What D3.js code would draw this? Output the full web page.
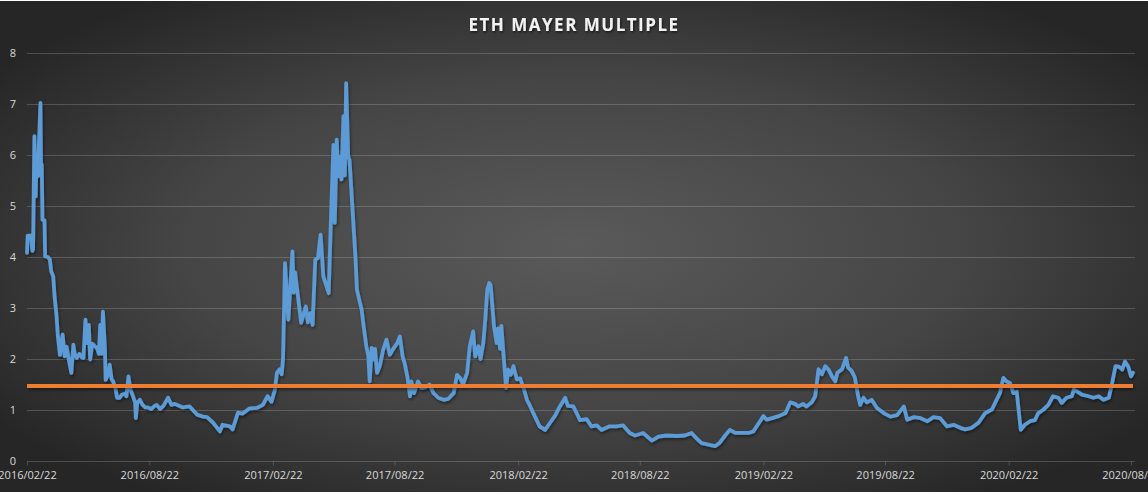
<!DOCTYPE html>
<html>
<head>
<meta charset="utf-8">
<script src="https://cdn.jsdelivr.net/npm/d3@7"></script>
<style>
    html, body { margin: 0; padding: 0; background: #ffffff; }
    svg { display: block; }
</style>
</head>
<body>
<div id="chart"></div>
<script>

// daily ETH mayer multiple (not every day)
var dates = [
    "2016-02-22", "2016-02-23", "2016-02-28", "2016-03-01", "2016-03-02", "2016-03-04", "2016-03-06", "2016-03-07",
    "2016-03-09", "2016-03-13", "2016-03-14", "2016-03-15", "2016-03-16", "2016-03-19", "2016-03-20", "2016-03-24",
    "2016-03-27", "2016-03-29", "2016-04-01", "2016-04-03", "2016-04-06", "2016-04-08", "2016-04-11", "2016-04-15",
    "2016-04-18", "2016-04-21", "2016-04-25", "2016-04-28", "2016-05-01", "2016-05-03", "2016-05-06", "2016-05-10",
    "2016-05-13", "2016-05-16", "2016-05-19", "2016-05-21", "2016-05-24", "2016-05-26", "2016-05-29", "2016-06-02",
    "2016-06-05", "2016-06-08", "2016-06-10", "2016-06-12", "2016-06-14", "2016-06-17", "2016-06-18", "2016-06-22",
    "2016-06-24", "2016-06-27", "2016-06-29", "2016-07-03", "2016-07-05", "2016-07-09", "2016-07-12", "2016-07-16",
    "2016-07-19", "2016-07-22", "2016-07-25", "2016-07-28", "2016-08-01", "2016-08-02", "2016-08-04", "2016-08-08",
    "2016-08-12", "2016-08-16", "2016-08-20", "2016-08-25", "2016-08-30", "2016-09-02", "2016-09-07", "2016-09-12",
    "2016-09-19", "2016-09-24", "2016-09-29", "2016-10-06", "2016-10-11", "2016-10-21", "2016-11-01", "2016-11-10",
    "2016-11-16", "2016-11-25", "2016-12-05", "2016-12-09", "2016-12-20", "2016-12-24", "2017-01-01", "2017-01-08",
    "2017-01-18", "2017-01-29", "2017-02-07", "2017-02-14", "2017-02-20", "2017-02-25", "2017-02-28", "2017-03-04",
    "2017-03-07", "2017-03-09", "2017-03-12", "2017-03-17", "2017-03-23", "2017-03-25", "2017-03-27", "2017-04-05",
    "2017-04-12", "2017-04-15", "2017-04-19", "2017-04-22", "2017-04-26", "2017-04-30", "2017-05-04", "2017-05-08",
    "2017-05-13", "2017-05-16", "2017-05-19", "2017-05-23", "2017-05-25", "2017-05-28", "2017-05-30", "2017-06-01",
    "2017-06-04", "2017-06-07", "2017-06-09", "2017-06-11", "2017-06-14", "2017-06-16", "2017-06-19", "2017-06-22",
    "2017-06-25", "2017-06-27", "2017-07-01", "2017-07-04", "2017-07-07", "2017-07-11", "2017-07-14", "2017-07-16",
    "2017-07-19", "2017-07-21", "2017-07-24", "2017-07-27", "2017-07-31", "2017-08-05", "2017-08-10", "2017-08-15",
    "2017-08-20", "2017-08-26", "2017-08-30", "2017-09-03", "2017-09-06", "2017-09-10", "2017-09-14", "2017-09-16",
    "2017-09-20", "2017-09-26", "2017-10-01", "2017-10-08", "2017-10-13", "2017-10-19", "2017-10-26", "2017-11-03",
    "2017-11-10", "2017-11-18", "2017-11-23", "2017-11-28", "2017-12-02", "2017-12-08", "2017-12-12", "2017-12-17",
    "2017-12-20", "2017-12-25", "2017-12-28", "2018-01-01", "2018-01-04", "2018-01-07", "2018-01-10", "2018-01-12",
    "2018-01-15", "2018-01-17", "2018-01-21", "2018-01-23", "2018-01-26", "2018-01-28", "2018-01-31", "2018-02-04",
    "2018-02-07", "2018-02-11", "2018-02-15", "2018-02-20", "2018-02-25", "2018-03-02", "2018-03-07", "2018-03-12",
    "2018-03-19", "2018-03-26", "2018-04-03", "2018-04-10", "2018-04-18", "2018-04-25", "2018-05-03", "2018-05-07",
    "2018-05-15", "2018-05-20", "2018-05-25", "2018-06-04", "2018-06-11", "2018-06-19", "2018-06-26", "2018-07-08",
    "2018-07-18", "2018-07-28", "2018-08-07", "2018-08-15", "2018-08-27", "2018-09-09", "2018-09-19", "2018-10-01",
    "2018-10-16", "2018-10-28", "2018-11-07", "2018-11-14", "2018-11-22", "2018-12-02", "2018-12-12", "2018-12-19",
    "2018-12-27", "2019-01-03", "2019-01-11", "2019-01-21", "2019-01-31", "2019-02-07", "2019-02-15", "2019-02-22",
    "2019-02-27", "2019-03-07", "2019-03-17", "2019-03-27", "2019-04-03", "2019-04-10", "2019-04-15", "2019-04-22",
    "2019-04-27", "2019-05-05", "2019-05-10", "2019-05-15", "2019-05-20", "2019-05-25", "2019-05-30", "2019-06-04",
    "2019-06-09", "2019-06-12", "2019-06-19", "2019-06-25", "2019-06-28", "2019-07-03", "2019-07-08", "2019-07-13",
    "2019-07-16", "2019-07-21", "2019-07-26", "2019-08-02", "2019-08-10", "2019-08-20", "2019-08-30", "2019-09-09",
    "2019-09-19", "2019-09-24", "2019-10-04", "2019-10-14", "2019-10-24", "2019-11-02", "2019-11-12", "2019-11-22",
    "2019-12-02", "2019-12-12", "2019-12-19", "2019-12-29", "2020-01-08", "2020-01-18", "2020-01-28", "2020-02-04",
    "2020-02-09", "2020-02-14", "2020-02-19", "2020-02-24", "2020-02-29", "2020-03-05", "2020-03-07", "2020-03-11",
    "2020-03-17", "2020-03-25", "2020-04-01", "2020-04-06", "2020-04-13", "2020-04-21", "2020-04-28", "2020-05-06",
    "2020-05-11", "2020-05-18", "2020-05-26", "2020-05-29", "2020-06-02", "2020-06-10", "2020-06-20", "2020-06-27",
    "2020-07-05", "2020-07-12", "2020-07-20", "2020-07-25", "2020-07-30", "2020-08-04", "2020-08-09", "2020-08-13",
    "2020-08-18", "2020-08-22", "2020-08-25"
];

var mayerValues = [
    4.08, 4.42, 4.42, 4.12, 4.15, 6.37, 5.19, 6.00,
    5.58, 7.02, 5.60, 5.81, 4.73, 4.72, 4.01, 4.00,
    3.95, 3.72, 3.62, 3.23, 2.84, 2.44, 2.08, 2.48,
    2.05, 2.24, 1.93, 1.73, 2.28, 2.10, 2.02, 2.10,
    2.04, 2.02, 2.77, 2.31, 2.67, 1.99, 2.30, 2.25,
    2.22, 2.10, 2.67, 2.10, 2.93, 2.20, 1.59, 1.70,
    1.89, 1.60, 1.57, 1.40, 1.24, 1.24, 1.30, 1.32,
    1.27, 1.66, 1.40, 1.30, 1.14, 0.84, 1.14, 1.20,
    1.10, 1.05, 1.05, 1.02, 1.08, 1.10, 1.02, 1.08,
    1.24, 1.10, 1.12, 1.08, 1.05, 1.07, 0.91, 0.87,
    0.86, 0.75, 0.58, 0.71, 0.68, 0.62, 0.95, 0.93,
    1.03, 1.04, 1.10, 1.27, 1.16, 1.40, 1.73, 1.80,
    1.70, 2.00, 3.88, 2.77, 4.11, 3.30, 3.70, 2.71,
    3.03, 2.72, 2.90, 2.67, 3.95, 3.98, 4.44, 3.62,
    3.42, 3.29, 4.60, 6.20, 4.67, 6.30, 5.58, 5.97,
    5.52, 6.76, 5.60, 7.41, 5.97, 5.90, 5.25, 4.60,
    3.95, 3.36, 3.13, 2.97, 2.64, 2.25, 2.05, 1.56,
    2.22, 1.99, 2.20, 1.73, 1.86, 2.18, 2.38, 2.08,
    2.20, 2.31, 2.44, 2.05, 1.92, 1.66, 1.27, 1.56,
    1.33, 1.56, 1.43, 1.45, 1.50, 1.33, 1.24, 1.20,
    1.22, 1.33, 1.69, 1.62, 1.50, 1.73, 2.25, 2.54,
    2.05, 2.25, 2.00, 2.31, 2.77, 3.36, 3.49, 3.45,
    2.97, 2.64, 2.31, 2.60, 2.20, 2.65, 2.12, 1.43,
    1.79, 1.69, 1.86, 1.60, 1.62, 1.43, 1.20, 1.07,
    0.87, 0.68, 0.61, 0.74, 0.89, 1.07, 1.24, 1.08,
    1.07, 0.94, 0.80, 0.82, 0.68, 0.70, 0.61, 0.68,
    0.68, 0.70, 0.55, 0.50, 0.55, 0.40, 0.48, 0.50,
    0.49, 0.50, 0.55, 0.45, 0.35, 0.32, 0.29, 0.36,
    0.50, 0.61, 0.55, 0.55, 0.55, 0.58, 0.74, 0.88,
    0.81, 0.84, 0.88, 0.94, 1.15, 1.12, 1.07, 1.12,
    1.07, 1.15, 1.27, 1.80, 1.70, 1.86, 1.79, 1.66,
    1.56, 1.73, 1.80, 2.02, 1.83, 1.77, 1.64, 1.27,
    1.10, 1.24, 1.15, 1.20, 1.04, 0.94, 0.87, 0.90,
    1.07, 0.81, 0.86, 0.84, 0.78, 0.86, 0.84, 0.68,
    0.71, 0.65, 0.62, 0.65, 0.75, 0.94, 1.01, 1.20,
    1.33, 1.63, 1.56, 1.53, 1.33, 1.36, 1.10, 0.61,
    0.71, 0.78, 0.80, 0.94, 1.00, 1.10, 1.27, 1.24,
    1.14, 1.24, 1.27, 1.40, 1.37, 1.30, 1.27, 1.24,
    1.27, 1.20, 1.24, 1.53, 1.86, 1.85, 1.79, 1.95,
    1.85, 1.66, 1.73
];

// the flat orange reference line
var thresholdValue = 1.47;

var yTicks = [0, 1, 2, 3, 4, 5, 6, 7, 8];

var xTickLabels = [
    "2016/02/22", "2016/08/22", "2017/02/22", "2017/08/22", "2018/02/22",
    "2018/08/22", "2019/02/22", "2019/08/22", "2020/02/22", "2020/08/22"
];

var title = "ETH MAYER MULTIPLE";

function MayerChart(options) {

    var _self = this;

    _self.parentId = options.parentId;

    _self.width = options.width;
    _self.height = options.height;

    _self.margin = {
        top: 53,
        right: 13,
        bottom: 34,
        left: 27
    };

    _self.plotWidth = _self.width - _self.margin.left - _self.margin.right;
    _self.plotHeight = _self.height - _self.margin.top - _self.margin.bottom;

    _self.parseDate = d3.timeParse("%Y-%m-%d");
    _self.parseLabel = d3.timeParse("%Y/%m/%d");
    _self.formatLabel = d3.timeFormat("%Y/%m/%d");

    _self.svg = d3.select("#" + _self.parentId).append("svg")
        .attr("width", _self.width)
        .attr("height", _self.height);
}

MayerChart.prototype.draw = function () {

    var _self = this;
    var svg = _self.svg;

    var data = dates.map(function (d, i) {
        return { date: _self.parseDate(d), value: mayerValues[i] };
    });

    var defs = svg.append("defs");

    var bg = defs.append("radialGradient")
        .attr("id", "bgGrad")
        .attr("cx", "50%")
        .attr("cy", "50%")
        .attr("r", "62%");
    bg.append("stop").attr("offset", "0%").attr("stop-color", "#5a5a5a");
    bg.append("stop").attr("offset", "55%").attr("stop-color", "#454545");
    bg.append("stop").attr("offset", "100%").attr("stop-color", "#262626");

    // user space filter so the flat line (zero height box) still shows
    defs.append("filter")
        .attr("id", "lineShadow")
        .attr("filterUnits", "userSpaceOnUse")
        .attr("x", 0).attr("y", 0)
        .attr("width", _self.width).attr("height", _self.height)
        .append("feDropShadow")
        .attr("dx", 1)
        .attr("dy", 2)
        .attr("stdDeviation", 1.5)
        .attr("flood-color", "#000000")
        .attr("flood-opacity", 0.45);

    defs.append("filter")
        .attr("id", "titleShadow")
        .append("feDropShadow")
        .attr("dx", 1)
        .attr("dy", 1.5)
        .attr("stdDeviation", 1)
        .attr("flood-color", "#000000")
        .attr("flood-opacity", 0.6);

    // chart background, white strip at top and bottom like the export
    svg.append("rect")
        .attr("x", 0)
        .attr("y", 1)
        .attr("width", _self.width)
        .attr("height", _self.height - 4)
        .attr("fill", "url(#bgGrad)");

    var lastDate = d3.timeDay.offset(_self.parseDate(dates[dates.length - 1]), 3);

    var x = d3.scaleTime()
        .domain([_self.parseDate(dates[0]), lastDate])
        .range([_self.margin.left, _self.margin.left + _self.plotWidth]);

    var y = d3.scaleLinear()
        .domain([0, 8])
        .range([_self.margin.top + _self.plotHeight, _self.margin.top]);

    // gridlines
    svg.append("g")
        .attr("class", "grid")
        .selectAll("line")
        .data(yTicks)
        .enter().append("line")
        .attr("x1", _self.margin.left)
        .attr("x2", _self.margin.left + _self.plotWidth)
        .attr("y1", function (d) { return Math.round(y(d)) + 0.5; })
        .attr("y2", function (d) { return Math.round(y(d)) + 0.5; })
        .attr("stroke", "#d9d9d9")
        .attr("stroke-opacity", 0.22)
        .attr("stroke-width", 1);

    // y labels
    svg.append("g")
        .selectAll("text")
        .data(yTicks)
        .enter().append("text")
        .attr("x", 13)
        .attr("y", function (d) { return y(d); })
        .attr("dy", "0.35em")
        .attr("text-anchor", "middle")
        .attr("fill", "#d9d9d9")
        .style("font-family", "'Open Sans', sans-serif")
        .style("font-size", "11px")
        .text(function (d) { return d; });

    // x axis
    var xAxis = d3.axisBottom(x)
        .tickValues(xTickLabels.map(function (d) { return _self.parseLabel(d); }))
        .tickFormat(_self.formatLabel)
        .tickSize(4)
        .tickPadding(6);

    var gx = svg.append("g")
        .attr("transform", "translate(0," + (Math.round(y(0)) + 0.5) + ")")
        .call(xAxis);

    gx.select(".domain").remove();
    gx.selectAll(".tick line")
        .attr("stroke", "#d9d9d9")
        .attr("stroke-opacity", 0.22);
    gx.selectAll(".tick text")
        .attr("fill", "#d9d9d9")
        .style("font-family", "'Open Sans', sans-serif")
        .style("font-size", "11px");

    // the mayer multiple line
    var line = d3.line()
        .x(function (d) { return x(d.date); })
        .y(function (d) { return y(d.value); });

    svg.append("path")
        .datum(data)
        .attr("d", line)
        .attr("fill", "none")
        .attr("stroke", "#5b9bd5")
        .attr("stroke-width", 3.8)
        .attr("stroke-linejoin", "round")
        .attr("stroke-linecap", "round")
        .attr("filter", "url(#lineShadow)");

    // threshold
    svg.append("line")
        .attr("x1", x(data[0].date))
        .attr("x2", x(data[data.length - 1].date))
        .attr("y1", y(thresholdValue))
        .attr("y2", y(thresholdValue))
        .attr("stroke", "#ed7d31")
        .attr("stroke-width", 4)
        .attr("filter", "url(#lineShadow)");

    // title
    svg.append("text")
        .attr("x", _self.width / 2)
        .attr("y", 31)
        .attr("text-anchor", "middle")
        .attr("fill", "#f2f2f2")
        .attr("filter", "url(#titleShadow)")
        .style("font-family", "'Open Sans', sans-serif")
        .style("font-weight", "bold")
        .style("font-size", "17px")
        .style("letter-spacing", "1.5px")
        .text(title);
};

var chart = new MayerChart({
    parentId: "chart",
    width: 1148,
    height: 495
});

chart.draw();

</script>
</body>
</html>
